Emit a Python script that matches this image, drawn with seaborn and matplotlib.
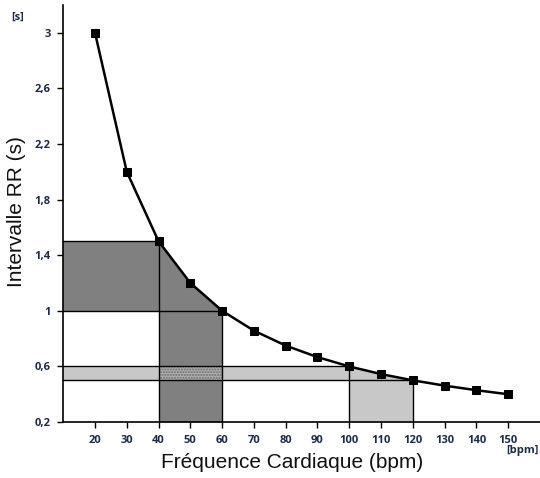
import matplotlib
matplotlib.use("Agg")
import matplotlib.pyplot as plt
import seaborn as sns
import pandas as pd
import numpy as np

hr = [20, 30, 40, 50, 60, 70, 80, 90, 100, 110, 120, 130, 140, 150]
rr = [3.0, 2.0, 1.5, 1.2, 1.0, 0.857, 0.75, 0.667, 0.6, 0.545, 0.5, 0.462, 0.429, 0.4]
yticks = [0.2, 0.6, 1.0, 1.4, 1.8, 2.2, 2.6, 3.0]
ytick_labels = ["0,2", "0,6", "1", "1,4", "1,8", "2,2", "2,6", "3"]

# highlighted ranges
dark_hr = (40, 60)
dark_rr = (1.0, 1.5)
light_hr = (100, 120)
light_rr = (0.5, 0.6)

sns.set_style("white")
plt.rcParams['font.family'] = ['Liberation Sans', 'DejaVu Sans']

df = pd.DataFrame({"hr": hr, "rr": rr})

fig = plt.figure(figsize=(5.4, 4.78), dpi=100)
ax = fig.add_axes([0.117, 0.117, 0.883, 0.873])
xmin, xmax = 10, 160
ymin, ymax = 0.2, 3.2

dark = "#808080"
light = "#c8c8c8"
lw = 1.0

ax.fill_between([xmin, dark_hr[0]], dark_rr[0], dark_rr[1], color=dark, lw=0, zorder=1)
sub = df[(df.hr >= dark_hr[0]) & (df.hr <= dark_hr[1])]
ax.fill_between(sub.hr, ymin, sub.rr, color=dark, lw=0, zorder=1)
ax.fill_between([xmin, light_hr[0]], light_rr[0], light_rr[1], color=light, lw=0, zorder=1)
sub2 = df[(df.hr >= light_hr[0]) & (df.hr <= light_hr[1])]
ax.fill_between(sub2.hr, ymin, sub2.rr, color=light, lw=0, zorder=1)
ax.fill_between([dark_hr[0], dark_hr[1]], light_rr[0], light_rr[1], facecolor="#b0b0b0",
                edgecolor="#6a6a6a", hatch="......", lw=0, zorder=1.5)

ax.plot([xmin, dark_hr[0]], [dark_rr[1]] * 2, color="black", lw=lw, zorder=2)
ax.plot([xmin, dark_hr[1]], [dark_rr[0]] * 2, color="black", lw=lw, zorder=2)
ax.plot([dark_hr[0]] * 2, [ymin, dark_rr[1]], color="black", lw=lw, zorder=2)
ax.plot([dark_hr[1]] * 2, [ymin, dark_rr[0]], color="black", lw=lw, zorder=2)
ax.plot([xmin, light_hr[0]], [light_rr[1]] * 2, color="black", lw=lw, zorder=2)
ax.plot([xmin, light_hr[1]], [light_rr[0]] * 2, color="black", lw=lw, zorder=2)
ax.plot([light_hr[0]] * 2, [ymin, light_rr[1]], color="black", lw=lw, zorder=2)
ax.plot([light_hr[1]] * 2, [ymin, light_rr[0]], color="black", lw=lw, zorder=2)

sns.lineplot(data=df, x="hr", y="rr", ax=ax, color="black", lw=1.8, marker="s",
             markersize=6, markeredgecolor="black", markerfacecolor="black", zorder=5)

ax.set_xlim(xmin, xmax)
ax.set_ylim(ymin, ymax)
ax.set_xticks(hr)
ax.set_xticklabels([str(h) for h in hr])
ax.set_yticks(yticks)
ax.set_yticklabels(ytick_labels)
tick_col = "#1c2b4a"
tick_font = ["Open Sans", "DejaVu Sans"]
for lab in ax.get_xticklabels() + ax.get_yticklabels():
    lab.set_fontfamily(tick_font)
    lab.set_fontweight("bold")
    lab.set_fontsize(8)
    lab.set_color(tick_col)
ax.tick_params(axis="both", direction="out", length=4, width=1, color="black",
               bottom=True, left=True, pad=5)
for s in ["top", "right"]:
    ax.spines[s].set_visible(False)
for s in ["left", "bottom"]:
    ax.spines[s].set_color("black")
    ax.spines[s].set_linewidth(1.2)

ax.set_xlabel("")
ax.set_ylabel("")
fig.text(292 / 540, 1 - 462 / 478, "Fréquence Cardiaque (bpm)", ha="center", va="center",
         fontsize=15, color="#111111")
fig.text(17 / 540, 1 - 212 / 478, "Intervalle RR (s)", ha="center", va="center", rotation=90,
         fontsize=15, color="#111111")
fig.text(18 / 540, 1 - 17 / 478, "[s]", ha="center", va="center", fontsize=8,
         fontweight="bold", color=tick_col, family=tick_font)
fig.text(522 / 540, 1 - 451 / 478, "[bpm]", ha="center", va="center", fontsize=8,
         fontweight="bold", color=tick_col, family=tick_font)

fig.savefig("out.png", dpi=100)
